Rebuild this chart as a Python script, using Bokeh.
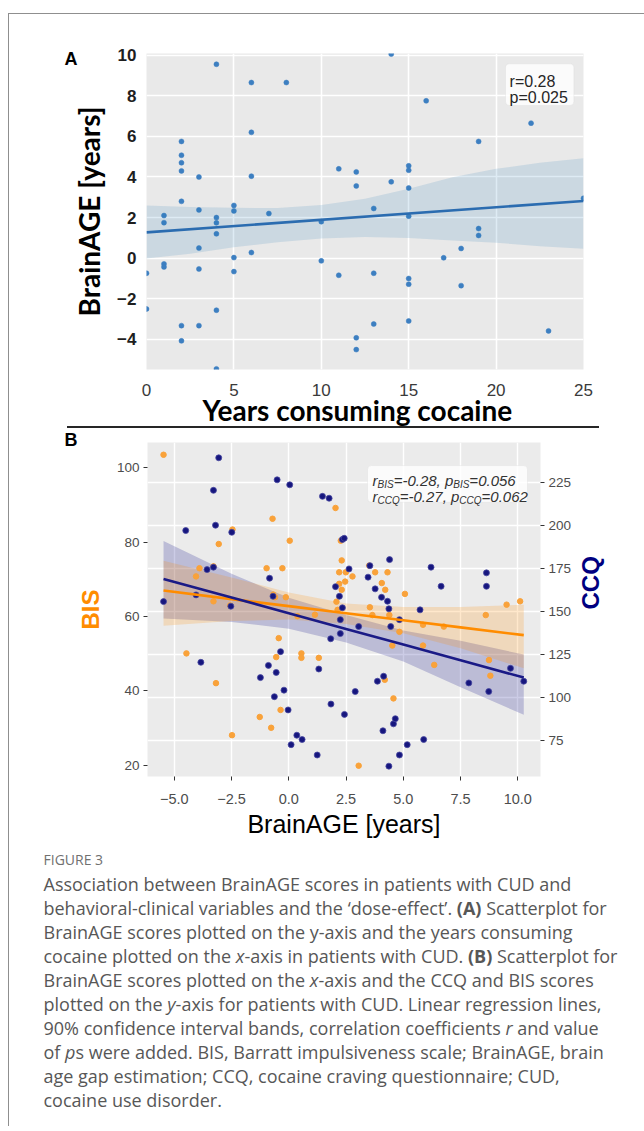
import os
import glob
import math
import subprocess

from bokeh.plotting import figure
from bokeh.models import (Range1d, LinearAxis, FixedTicker, BoxAnnotation, Title,
                          ColumnDataSource, Grid, Div, Spacer)
from bokeh.layouts import column, row
from bokeh.core.properties import value
from bokeh.embed import file_html
from bokeh.resources import INLINE

# ------------------------------------------------------------------ data
# Panel A : years consuming cocaine vs BrainAGE
A_X_TICKS = [0, 5, 10, 15, 20, 25]
A_Y_TICKS = [-4, -2, 0, 2, 4, 6, 8, 10]
A_Y_LABELS = {-4: "\u22124", -2: "\u22122"}

YEARS = [4, 6, 8, 6, 2, 2, 2, 2, 3, 6, 11, 12, 12, 2, 3, 5,
         14, 16, 22, 19, 15, 15, 14, 15, 13, 25,
         1, 1, 4, 4, 4, 5, 7, 10, 3, 5, 6, 1, 1, 3, 5, 10, 11, 0, 0, 4,
         2, 3, 2, 4, 12, 12,
         15, 19, 19, 18, 17, 13, 15, 15, 18, 13, 15, 23]
BRAINAGE = [9.55, 8.65, 8.65, 6.2, 5.75, 5.07, 4.7, 4.3, 4.0, 4.04, 4.4, 4.25, 3.56, 2.8, 2.38, 2.6,
            10.05, 7.75, 6.65, 5.75, 4.55, 4.33, 3.76, 3.46, 2.45, 2.95,
            2.1, 1.75, 2.0, 1.74, 1.2, 2.33, 2.2, 1.8, 0.5, 0.03, 0.28, -0.28, -0.43, -0.53, -0.66,
            -0.13, -0.84, -0.74, -2.5, -2.56,
            -3.32, -3.32, -4.07, -5.45, -3.92, -4.5,
            2.07, 1.46, 1.12, 0.48, 0.02, -0.74, -1.0, -1.28, -1.35, -3.24, -3.09, -3.58]

REG_A_X = [0, 25]
REG_A_Y = [1.27, 2.82]
BAND_A_X = [0, 2.5, 5, 7.5, 10, 12.5, 15, 17.5, 20, 22.5, 25]
BAND_A_LO = [-0.02, 0.22, 0.54, 0.79, 0.97, 1.04, 0.99, 0.87, 0.76, 0.59, 0.46]
BAND_A_HI = [2.6, 2.52, 2.48, 2.47, 2.62, 2.93, 3.42, 3.99, 4.4, 4.7, 4.92]

# Panel B : BrainAGE vs BIS (left axis) and CCQ (right axis)
B_X_TICKS = [-5, -2.5, 0, 2.5, 5, 7.5, 10]
B_X_LABELS = {-5: "\u22125.0", -2.5: "\u22122.5", 0: "0.0", 2.5: "2.5", 5: "5.0", 7.5: "7.5", 10: "10.0"}
BIS_TICKS = [20, 40, 60, 80, 100]
CCQ_TICKS = [75, 100, 125, 150, 175, 200, 225]

BIS_X = [-5.47, -4.47, -4.05, -3.90, -3.29, -3.29, -3.18, -3.06, -2.56, -2.48, -2.46, -0.97,
         -1.27, -0.77, -0.71, -0.68, -0.60, -0.55, -0.44, -0.36, -0.28, -0.13, 0.04, 0.38,
         0.55, 0.55, 1.14, 1.31, 2.04, 2.08, 2.13, 2.20, 2.20, 2.27, 2.31, 2.31, 2.46, 2.49,
         2.78, 3.05, 3.51, 3.54, 3.65, 3.77, 4.06, 4.19, 4.21, 4.31, 4.39, 4.52, 4.57, 4.83,
         5.07, 5.86, 5.86, 6.35, 6.77, 8.60, 8.74, 8.80, 9.51, 10.10]
BIS_Y = [103.5, 50.1, 70.8, 73.0, 73.5, 64.1, 42.1, 79.5, 63.0, 28.1, 83.4, 73.0,
         33.0, 30.1, 86.3, 65.9, 65.2, 49.1, 54.2, 34.9, 73.0, 65.2, 80.4, 60.1,
         50.1, 48.9, 60.5, 48.9, 89.2, 64.0, 61.8, 68.8, 71.9, 80.4, 75.1, 67.2, 69.4, 71.9,
         70.8, 19.9, 73.7, 62.5, 60.4, 71.9, 69.0, 43.0, 67.2, 71.9, 60.4, 52.2, 38.0, 55.9,
         66.1, 57.8, 52.2, 47.0, 57.3, 60.4, 48.3, 44.1, 63.2, 64.1]

CCQ_X = [-5.47, -4.50, -4.05, -3.84, -3.57, -3.29, -3.29, -3.20, -3.06, -2.49, -2.53, -1.24,
         -0.89, -0.84, -0.69, -0.63, -0.55, -0.51, -0.36, -0.21, -0.03, 0.04, 0.10, 0.35,
         0.58, 1.24, 1.31, 1.47, 1.76, 1.83, 1.84, 2.04, 2.21, 2.25, 2.25, 2.34, 2.34, 2.42,
         2.43, 2.63, 2.90, 3.05, 3.46, 3.54, 3.77, 3.87, 4.05, 4.11, 4.14, 4.31, 4.37, 4.37,
         4.40, 4.45, 4.57, 4.65, 4.83, 4.83, 5.17, 5.73, 5.89, 6.21, 6.65, 7.86, 8.63, 8.63,
         8.73, 9.68, 10.26]
CCQ_Y = [155.8, 197.1, 159.7, 120.5, 174.4, 175.8, 220.5, 200.2, 239.4, 196.1, 153.1, 111.6,
         118.7, 169.4, 158.9, 100.5, 114.6, 226.6, 126.7, 104.3, 92.8, 223.7, 72.6, 78.1,
         75.6, 66.6, 116.6, 217.0, 215.9, 134.2, 96.2, 164.5, 158.9, 137.2, 145.3, 152.2, 191.9, 192.6,
         90.2, 174.8, 103.5, 141.3, 170.0, 176.7, 163.2, 109.5, 158.3, 80.7, 112.4, 156.0, 60.1, 151.6,
         180.2, 141.3, 84.7, 87.7, 66.6, 145.3, 72.6, 151.0, 75.6, 175.8, 164.7, 108.5, 172.5, 164.7,
         103.5, 117.0, 109.5]

REG_B_X = [-5.47, -2.5, 0, 2.5, 5, 7.5, 10.26]
BIS_FIT = [67.0, 64.7, 62.8, 60.9, 59.0, 57.1, 55.0]
BIS_LO = [57.5, 58.8, 59.2, 58.0, 55.5, 51.5, 46.1]
BIS_HI = [75.0, 70.5, 66.5, 63.5, 62.6, 62.6, 63.2]
CCQ_FIT = [169.0, 158.2, 149.0, 139.9, 130.8, 121.7, 111.6]
CCQ_LO = [146.0, 144.0, 140.0, 132.0, 121.0, 106.0, 90.0]
CCQ_HI = [191.0, 172.0, 158.0, 148.0, 139.0, 133.0, 125.0]

ANN_A = ["r=0.28", "p=0.025"]
ANN_B_ROWS = [
    [("r", "main"), ("BIS", "sub"), ("=-0.28, ", "main"), ("p", "main"), ("BIS", "sub"), ("=0.056", "main")],
    [("r", "main"), ("CCQ", "sub"), ("=-0.27, ", "main"), ("p", "main"), ("CCQ", "sub"), ("=0.062", "main")],
]

CAPTION_HEAD = "FIGURE 3"
CAPTION_LINES = [
    [("Association between BrainAGE scores in patients with CUD and", "normal")],
    [("behavioral-clinical variables and the \u2018dose-effect\u2019. ", "normal"), ("(A)", "bold"),
     (" Scatterplot for", "normal")],
    [("BrainAGE scores plotted on the y-axis and the years consuming", "normal")],
    [("cocaine plotted on the ", "normal"), ("x", "italic"), ("-axis in patients with CUD. ", "normal"),
     ("(B)", "bold"), (" Scatterplot for", "normal")],
    [("BrainAGE scores plotted on the ", "normal"), ("x", "italic"),
     ("-axis and the CCQ and BIS scores", "normal")],
    [("plotted on the ", "normal"), ("y", "italic"),
     ("-axis for patients with CUD. Linear regression lines,", "normal")],
    [("90% confidence interval bands, correlation coefficients ", "normal"), ("r", "italic"),
     (" and value", "normal")],
    [("of ", "normal"), ("p", "italic"),
     ("s were added. BIS, Barratt impulsiveness scale; BrainAGE, brain", "normal")],
    [("age gap estimation; CCQ, cocaine craving questionnaire; CUD,", "normal")],
    [("cocaine use disorder.", "normal")],
]

# ------------------------------------------------------------------ text measuring helpers
try:
    from PIL import ImageFont
except Exception:
    ImageFont = None

_STYLE_NAME = {"normal": "Regular", "bold": "Bold", "italic": "Italic", "bold italic": "Bold Italic"}
_font_cache = {}


def _find_font(family, style):
    pth = None
    try:
        r = subprocess.run(["fc-match", "-f", "%{file}", f"{family}:style={_STYLE_NAME[style]}"],
                           capture_output=True, text=True, timeout=10)
        cand = r.stdout.strip()
        if cand and os.path.exists(cand):
            pth = cand
    except Exception:
        pth = None
    if pth is None:
        key = family.replace(" ", "")
        suf = _STYLE_NAME[style].replace(" ", "")
        for d in ("/usr/share/fonts", "/usr/local/share/fonts",
                  os.path.expanduser("~/.fonts"), os.path.expanduser("~/.local/share/fonts")):
            hits = sorted(glob.glob(os.path.join(d, "**", f"{key}-{suf}.ttf"), recursive=True))
            if hits:
                pth = hits[0]
                break
    return pth


def measure(s, family, style, size):
    key = (family, style)
    if key not in _font_cache:
        f = None
        if ImageFont is not None:
            pth = _find_font(family, style)
            if pth:
                try:
                    f = ImageFont.truetype(pth, 200)
                    if "bold" in style:
                        try:
                            f.set_variation_by_name("Bold")
                        except Exception:
                            pass
                except Exception:
                    f = None
        _font_cache[key] = f
    f = _font_cache[key]
    if f is None:
        return len(s) * 0.52 * size * (1.06 if "bold" in style else 1.0)
    return f.getlength(s) * size / 200.0


def no_frame_align(p):
    if "frame_align" in p.properties():
        try:
            p.frame_align = False
        except Exception:
            pass


TICK_FONT = "Liberation Sans"
TITLE_A_FONT = "Lato"

# ------------------------------------------------------------------ panel A
pA = figure(frame_width=437, frame_height=316,
            x_range=Range1d(0, 25), y_range=Range1d(-5.48, 10.08),
            output_backend="svg", toolbar_location=None,
            min_border_left=137, min_border_right=61, min_border_top=39, min_border_bottom=57,
            background_fill_color="#E9E9E9", border_fill_color="white", outline_line_color=None)
no_frame_align(pA)
pA.xaxis.ticker = FixedTicker(ticks=A_X_TICKS)
pA.yaxis.ticker = FixedTicker(ticks=A_Y_TICKS)
pA.xgrid.ticker = FixedTicker(ticks=A_X_TICKS)
pA.ygrid.ticker = FixedTicker(ticks=A_Y_TICKS)
pA.grid.grid_line_color = "white"
pA.grid.grid_line_width = 1.6
pA.yaxis.major_label_overrides = A_Y_LABELS
for ax in (pA.xaxis[0], pA.yaxis[0]):
    ax.axis_line_color = None
    ax.major_tick_line_color = None
    ax.minor_tick_line_color = None
    ax.major_tick_out = 0
    ax.major_tick_in = 0
    ax.major_label_text_font = TICK_FONT
    ax.major_label_text_font_size = "17px"
    ax.axis_label_text_font = TITLE_A_FONT
    ax.axis_label_text_font_size = "28px"
    ax.axis_label_text_font_style = "bold"
    ax.axis_label_text_color = "black"
pA.xaxis.major_label_text_color = "#3a3a3a"
pA.yaxis.major_label_text_color = "#1e1e1e"
pA.yaxis.major_label_text_font_style = "bold"
pA.xaxis.major_label_standoff = 14
pA.yaxis.major_label_standoff = 10
pA.yaxis.axis_label = "BrainAGE [years]"
pA.yaxis.axis_label_standoff = 8
# x-axis title placed as a title below the axis so it can sit where the reference has it
pA.add_layout(Title(text="Years consuming cocaine", align="left", offset=56, standoff=-12,
                    vertical_align="top", text_font=TITLE_A_FONT, text_font_size="28px",
                    text_font_style="bold", text_color="black"), "below")

pA.scatter(x=YEARS, y=BRAINAGE, size=5, marker="circle",
           fill_color="#3d7fc1", line_color="#3d7fc1", line_width=0.5)
pA.varea(x=BAND_A_X, y1=BAND_A_LO, y2=BAND_A_HI, fill_color="#1f77b4", fill_alpha=0.15)
pA.line(x=REG_A_X, y=REG_A_Y, line_color="#2b6cb0", line_width=2.6)

boxA = BoxAnnotation(left=20.54, right=24.45, bottom=7.52, top=9.57,
                     fill_color="white", fill_alpha=0.8, line_color="#d6d6d6", line_width=1)
try:
    boxA.border_radius = 4
except Exception:
    pass
pA.add_layout(boxA)
pA.text(x=[20.77, 20.77], y=[8.677, 7.914], text=ANN_A,
        text_font=value(TICK_FONT), text_font_size="16px", text_color="#262626",
        text_baseline="alphabetic", level="overlay")
pA.add_layout(Title(text="A", align="left", offset=-82, standoff=-31, vertical_align="bottom",
                    text_font=TICK_FONT, text_font_size="18px", text_font_style="bold",
                    text_color="black"), "above")

# ------------------------------------------------------------------ separator line
sep = row(Spacer(width=53, height=2),
          Div(text="", width=532, height=2, styles={"background-color": "#262626"}),
          styles={"transform": "translateY(-5px)"})

# ------------------------------------------------------------------ panel B
ORANGE_PT = "#F9A23A"
ORANGE = "#FF8C00"
NAVY = "#000080"
NAVY_PT = "#16167e"

pB = figure(frame_width=393, frame_height=334,
            x_range=Range1d(-6.17, 10.99), y_range=Range1d(17.0, 106.8),
            output_backend="svg", toolbar_location=None,
            min_border_left=138, min_border_right=104, min_border_top=14, min_border_bottom=50,
            background_fill_color="#EBEBEB", border_fill_color="white", border_fill_alpha=0.0,
            outline_line_color=None, styles={"transform": "translateY(-10px)"})
no_frame_align(pB)
pB.extra_y_ranges = {"ccq": Range1d(54.1, 248.3)}
right_axis = LinearAxis(y_range_name="ccq")
pB.add_layout(right_axis, "right")

pB.xaxis.ticker = FixedTicker(ticks=B_X_TICKS)
pB.yaxis[0].ticker = FixedTicker(ticks=BIS_TICKS)
right_axis.ticker = FixedTicker(ticks=CCQ_TICKS)
pB.xaxis.major_label_overrides = B_X_LABELS

pB.xgrid.ticker = FixedTicker(ticks=B_X_TICKS)
pB.ygrid.visible = False
pB.xgrid.grid_line_color = "white"
pB.xgrid.grid_line_width = 1.4
ccq_grid = Grid(dimension=1, ticker=FixedTicker(ticks=CCQ_TICKS), y_range_name="ccq",
                grid_line_color="white", grid_line_width=1.4)
pB.add_layout(ccq_grid, "center")

for ax in (pB.xaxis[0], pB.yaxis[0], right_axis):
    ax.axis_line_color = None
    ax.major_tick_line_color = "#333333"
    ax.minor_tick_line_color = None
    ax.major_tick_out = 4
    ax.major_tick_in = 0
    ax.major_label_text_font = TICK_FONT
    ax.major_label_text_font_size = "13.5px"
    ax.major_label_text_color = "#4D4D4D"
    ax.major_label_standoff = 4
    ax.axis_label_text_font = TICK_FONT
pB.xaxis.major_label_text_font_size = "14.5px"
pB.xaxis.major_label_standoff = 13
pB.xaxis.axis_label = "BrainAGE [years]"
pB.xaxis.axis_label_text_font_size = "25px"
pB.xaxis.axis_label_text_font_style = "normal"
pB.xaxis.axis_label_text_color = "black"
pB.xaxis.axis_label_standoff = 3
left_axis = pB.yaxis[0]
left_axis.axis_label = "BIS"
left_axis.axis_label_text_font_size = "24px"
left_axis.axis_label_text_font_style = "bold"
left_axis.axis_label_text_color = ORANGE
left_axis.axis_label_standoff = 10
right_axis.axis_label = "CCQ"
right_axis.axis_label_text_font_size = "24px"
right_axis.axis_label_text_font_style = "bold"
right_axis.axis_label_text_color = NAVY
right_axis.axis_label_standoff = 16
if "axis_label_orientation" in right_axis.properties():
    try:
        right_axis.axis_label_orientation = math.pi / 2
    except Exception:
        pass

pB.varea(x=REG_B_X, y1=CCQ_LO, y2=CCQ_HI, fill_color=NAVY, fill_alpha=0.2, y_range_name="ccq")
pB.varea(x=REG_B_X, y1=BIS_LO, y2=BIS_HI, fill_color=ORANGE, fill_alpha=0.2)
pB.scatter(x=BIS_X, y=BIS_Y, size=5.5, marker="circle", fill_color=ORANGE_PT, line_color=ORANGE_PT)
pB.scatter(x=CCQ_X, y=CCQ_Y, size=6, marker="circle", fill_color=NAVY_PT, line_color="#4848a0",
           line_width=0.8, y_range_name="ccq")
pB.line(x=REG_B_X, y=BIS_FIT, line_color=ORANGE, line_width=2.6)
pB.line(x=REG_B_X, y=CCQ_FIT, line_color="#1a1a86", line_width=2.6, y_range_name="ccq")

boxB = BoxAnnotation(left=3.437, right=10.424, bottom=90.73, top=100.59,
                     fill_color="white", fill_alpha=0.8, line_color="#d6d6d6", line_width=1)
try:
    boxB.border_radius = 4
except Exception:
    pass
pB.add_layout(boxB)

ANN_MAIN_SIZE = 15.0
ANN_SUB_SIZE = 10.0
ann_src = {"main": dict(x=[], y=[], text=[], xo=[], yo=[]),
           "sub": dict(x=[], y=[], text=[], xo=[], yo=[])}
ann_anchor_y = [96.56, 92.26]
for row_parts, yv in zip(ANN_B_ROWS, ann_anchor_y):
    off = 0.0
    for txt, kind in row_parts:
        size = ANN_MAIN_SIZE if kind == "main" else ANN_SUB_SIZE
        lead = len(txt) - len(txt.lstrip(" "))
        lead_w = measure(" " * lead, TICK_FONT, "italic", size) if lead else 0.0
        d = ann_src[kind]
        d["x"].append(3.655)
        d["y"].append(yv)
        d["text"].append(txt.strip())
        d["xo"].append(off + lead_w)
        d["yo"].append(3.5 if kind == "sub" else 0.0)
        off += measure(txt, TICK_FONT, "italic", size)
for kind, size in (("main", ANN_MAIN_SIZE), ("sub", ANN_SUB_SIZE)):
    pB.text(x="x", y="y", text="text", x_offset="xo", y_offset="yo",
            source=ColumnDataSource(ann_src[kind]),
            text_font=value(TICK_FONT), text_font_size=f"{size}px", text_font_style="italic",
            text_color="#333333", text_baseline="alphabetic", level="overlay")

pB.add_layout(Title(text="B", align="left", offset=-83, standoff=-14, vertical_align="bottom",
                    text_font=TICK_FONT, text_font_size="18px", text_font_style="bold",
                    text_color="black"), "above")

# ------------------------------------------------------------------ caption
CAP_FONT = "Open Sans"
CAP_H = 276
pC = figure(frame_width=635, frame_height=CAP_H,
            x_range=Range1d(0, 635), y_range=Range1d(CAP_H, 0),
            min_border_left=0, min_border_right=0, min_border_top=0, min_border_bottom=0,
            output_backend="svg", toolbar_location=None,
            x_axis_location=None, y_axis_location=None,
            background_fill_color="white", border_fill_color="white", outline_line_color=None,
            styles={"transform": "translateY(-10px)"})
no_frame_align(pC)
pC.grid.visible = False

w_line1 = measure(CAPTION_LINES[0][0][0], CAP_FONT, "normal", 1.0)
cap_size = round(max(15.5, min(19.0, 528.0 / w_line1)), 1) if w_line1 > 0 else 17.5

cap_src = {s: dict(x=[], y=[], text=[]) for s in ("normal", "bold", "italic")}
CAP_X0 = 34
CAP_BASE0 = 43.3
CAP_LEAD = 24.0
for i, line in enumerate(CAPTION_LINES):
    xx = CAP_X0
    yy = CAP_BASE0 + i * CAP_LEAD
    for txt, sty in line:
        lead = len(txt) - len(txt.lstrip(" "))
        lead_w = measure(" " * lead, CAP_FONT, sty, cap_size) if lead else 0.0
        cap_src[sty]["x"].append(xx + lead_w)
        cap_src[sty]["y"].append(yy)
        cap_src[sty]["text"].append(txt.strip())
        xx += measure(txt, CAP_FONT, sty, cap_size)
for sty in ("normal", "bold", "italic"):
    pC.text(x="x", y="y", text="text", source=ColumnDataSource(cap_src[sty]),
            text_font=value(CAP_FONT), text_font_size=f"{cap_size}px", text_font_style=sty,
            text_color="#575757", text_baseline="alphabetic", text_align="left")
pC.text(x=[CAP_X0], y=[19], text=[CAPTION_HEAD], text_font=value(CAP_FONT),
        text_font_size="14px", text_color="#707070", text_baseline="alphabetic")

# ------------------------------------------------------------------ layout
layout = column(pA, sep, pB, pC, spacing=0,
                styles={"border-left": "1px solid #8f8f8f", "border-top": "1px solid #8f8f8f",
                        "margin-top": "13px", "margin-left": "8px"})

open("out.html", "w").write(file_html(layout, INLINE))
